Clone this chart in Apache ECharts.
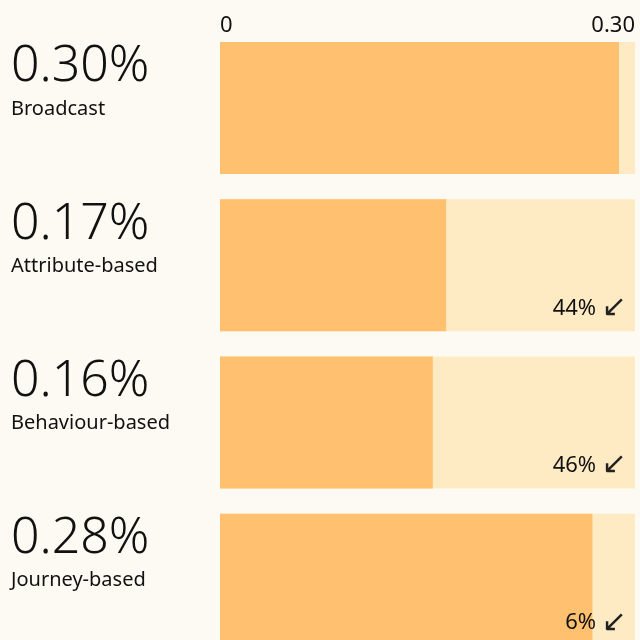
<!DOCTYPE html>
<html>
<head>
<meta charset="utf-8">
<script src="https://cdn.jsdelivr.net/npm/echarts@6/dist/echarts.min.js"></script>
<style>
  html, body { margin: 0; padding: 0; background: #fcfaf2; }
  #chart { width: 640px; height: 640px; }
</style>
</head>
<body>
<div id="chart"></div>
<script>
// data
var categories = ['Broadcast', 'Attribute-based', 'Behaviour-based', 'Journey-based']
var rates = [0.30, 0.17, 0.16, 0.28]
var drops = ['', '44%', '46%', '6%']
var axisMax = 0.312
var tickValues = [0, axisMax]
var tickLabels = ['0', '0.30']

var chart = echarts.init(document.getElementById('chart'))
var font = '"Noto Sans", sans-serif'

var option = {
  backgroundColor: '#fcfaf2',
  animation: false,
  grid: { left: 220, right: 5, top: 29.4, height: 629, outerBoundsMode: 'none', containLabel: false },
  xAxis: {
    type: 'value',
    position: 'top',
    min: 0,
    max: axisMax,
    offset: -7,
    axisLine: { show: false },
    axisTick: { show: false },
    splitLine: { show: false },
    axisLabel: {
      customValues: tickValues,
      margin: 0,
      alignMinLabel: 'left',
      alignMaxLabel: 'right',
      color: '#111',
      fontFamily: font,
      fontSize: 22,
      formatter: function (v) {
        return tickLabels[tickValues.indexOf(v)]
      }
    }
  },
  yAxis: {
    type: 'category',
    inverse: true,
    data: categories,
    axisLine: { show: false },
    axisTick: { show: false },
    axisLabel: {
      align: 'left',
      margin: 209,
      padding: [0, 0, 54, 0],
      formatter: function (value, index) {
        return '{v|' + rates[index].toFixed(2) + '%}\n{n|' + value + '}'
      },
      rich: {
        v: { fontSize: 50, lineHeight: 56, color: '#111', fontFamily: font, fontWeight: 300 },
        n: { fontSize: 20, lineHeight: 28, color: '#111', fontFamily: font }
      }
    }
  },
  series: [
    {
      type: 'bar',
      barWidth: 132,
      barGap: '-100%',
      silent: true,
      itemStyle: { color: '#ffebc3' },
      label: {
        show: true,
        position: 'insideBottomRight',
        distance: 8,
        color: '#111',
        fontFamily: font,
        fontSize: 22,
        formatter: function (p) {
          return drops[p.dataIndex] ? drops[p.dataIndex] + ' {a|\u2199}' : ''
        },
        rich: {
          a: { fontSize: 30, fontFamily: '"DejaVu Sans"', color: '#222' }
        }
      },
      data: categories.map(function () { return axisMax })
    },
    {
      type: 'bar',
      barWidth: 132,
      barGap: '-100%',
      silent: true,
      itemStyle: { color: '#ffc06f' },
      data: rates
    }
  ]
}
option && chart.setOption(option)
</script>
</body>
</html>
